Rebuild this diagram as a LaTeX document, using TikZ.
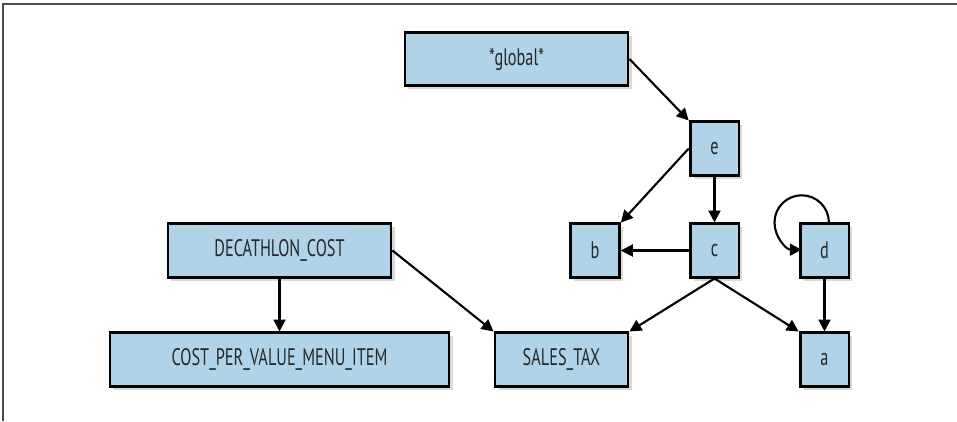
\documentclass[tikz,border=0pt]{standalone}
\usepackage{fontspec}
\setmainfont{PT Sans}[FakeStretch=0.68]
\usetikzlibrary{arrows.meta,shadows}

\definecolor{boxblue}{RGB}{176,211,232}
\definecolor{boxtext}{RGB}{40,40,40}

\begin{document}
\begin{tikzpicture}[x=0.025cm,y=-0.025cm,
    box/.style={draw,rectangle,fill=boxblue,line width=2pt,text=boxtext,
      minimum height=1.33cm,inner sep=0pt,
      font=\fontsize{17}{20}\selectfont,
      drop shadow={shadow xshift=2.5pt,shadow yshift=-2.5pt,opacity=0.3}},
    sq/.style={box,minimum width=1.22cm},
    >={Triangle[length=8.5pt,width=8.5pt]},
    link/.style={line width=1.5pt}]
  \useasboundingbox (0,0) rectangle (957,421);
  \draw[line width=1pt,black!70] (3,421) -- (3,4) -- (957,4);

  \node[box,minimum width=5.575cm] (global) at (516.5,59) {*global*};
  \node[sq] (e) at (714.5,148.5) {e};
  \node[sq] (b) at (595,250.5) {b};
  \node[sq] (c) at (714.5,250.5) {c};
  \node[sq] (d) at (824.5,250.5) {d};
  \node[sq] (a) at (824.5,359.5) {a};
  \node[box,minimum width=3.325cm] (tax) at (561.5,359.5) {SALES\_TAX};
  \node[box,minimum width=5.575cm] (cost) at (279.5,250.5) {DECATHLON\_COST};
  \node[box,minimum width=8.475cm] (item) at (279.5,359.5) {COST\_PER\_VALUE\_MENU\_ITEM};

  \path[->,link] (global.east) edge (e.north west);
  \path[->,link] (e.west) edge (b.north east) (e) edge (c);
  \path[->,link] (c) edge (b) (c.south) edge (tax.north east) (c.south) edge (a.north west);
  \draw[->,link] ([xshift=0.11cm]d.north) arc[start angle=0,end angle=270,radius=0.68cm];
  \path[->,link] (d) edge (a);
  \path[->,link] (cost) edge (item) (cost.east) edge (tax.north west);
\end{tikzpicture}
\end{document}
